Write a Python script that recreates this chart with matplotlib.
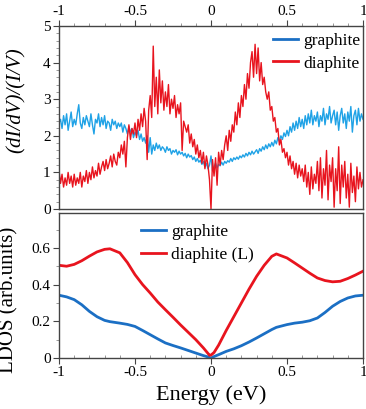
import numpy as np
import matplotlib
matplotlib.use("Agg")
import matplotlib.pyplot as plt
from matplotlib.ticker import MultipleLocator

plt.rcParams['font.family'] = ['Liberation Serif', 'DejaVu Serif']

# ---- top panel: measured (dI/dV)/(I/V) ----
energy_exp = np.linspace(-1, 1, 201)
graphite_exp = [
    2.35, 2.45, 2.20, 2.55, 2.30, 2.60, 2.15, 2.40, 2.65, 2.25,
    2.45, 2.30, 2.60, 2.85, 2.35, 2.20, 2.50, 2.30, 2.55, 2.40,
    2.25, 2.60, 2.30, 2.05, 2.45, 2.35, 2.60, 2.25, 2.50, 2.30,
    2.55, 2.20, 2.40, 2.35, 2.15, 2.45, 2.30, 2.40, 2.20, 2.35,
    2.25, 2.35, 2.10, 2.30, 2.20, 2.05, 2.25, 2.10, 2.20, 1.95,
    2.10, 2.00, 2.15, 1.90, 2.05, 1.85, 1.95, 1.80, 2.00, 1.55,
    1.95, 1.50, 1.75, 1.60, 1.80, 1.65, 1.75, 1.60, 1.70, 1.65,
    1.55, 1.70, 1.60, 1.65, 1.50, 1.60, 1.55, 1.62, 1.48, 1.58,
    1.50, 1.55, 1.45, 1.52, 1.40, 1.50, 1.42, 1.46, 1.35, 1.42,
    1.30, 1.38, 1.28, 1.33, 1.22, 1.30, 1.15, 1.25, 1.10, 1.20,
    1.45, 1.05, 1.15, 1.25, 1.12, 1.22, 1.18, 1.28, 1.20, 1.30,
    1.25, 1.32, 1.28, 1.38, 1.30, 1.40, 1.35, 1.42, 1.36, 1.45,
    1.40, 1.48, 1.42, 1.52, 1.45, 1.55, 1.48, 1.58, 1.50, 1.56,
    1.62, 1.52, 1.65, 1.58, 1.70, 1.62, 1.75, 1.65, 1.78, 1.70,
    1.82, 1.72, 1.88, 1.78, 1.95, 1.85, 2.00, 1.90, 2.08, 1.98,
    2.15, 2.00, 2.25, 2.10, 2.35, 2.15, 2.40, 2.20, 2.50, 2.25,
    2.45, 2.20, 2.55, 2.30, 2.60, 2.35, 2.70, 2.30, 2.55, 2.40,
    2.65, 2.25, 2.55, 2.40, 2.75, 2.30, 2.60, 2.45, 2.80, 2.35,
    2.55, 2.70, 2.30, 2.65, 2.15, 2.55, 2.75, 2.35, 2.60, 2.20,
    2.65, 2.40, 2.80, 2.10, 2.55, 2.70, 2.30, 2.75, 2.40, 2.60,
    2.45]
diaphite_exp = [
    1.05, 0.70, 0.95, 0.60, 0.85, 0.65, 1.00, 0.70, 0.90, 0.60,
    0.95, 0.65, 0.85, 0.70, 1.00, 0.60, 0.90, 0.75, 1.05, 0.70,
    1.00, 0.80, 1.15, 0.85, 1.05, 0.90, 1.25, 0.95, 1.15, 1.30,
    1.05, 1.35, 1.10, 1.25, 1.45, 1.15, 1.50, 1.30, 1.20, 1.55,
    1.40, 1.75, 1.50, 1.85, 1.15, 1.95, 2.30, 1.90, 2.20, 2.05,
    2.35, 1.95, 2.45, 2.15, 2.60, 2.25, 2.75, 2.40, 1.35, 2.70,
    3.10, 2.50, 4.45, 2.80, 3.60, 2.60, 3.80, 2.90, 3.50, 2.70,
    3.20, 2.80, 3.40, 2.60, 3.00, 2.75, 3.10, 2.50, 2.85, 2.60,
    2.90, 1.60, 2.40, 2.25, 2.10, 2.30, 1.80, 2.05, 1.70, 1.90,
    1.50, 1.75, 1.40, 1.60, 1.25, 1.55, 1.10, 1.45, 1.20, 0.80,
    0.00, 1.35, 0.90, 1.40, 0.65, 1.55, 1.20, 1.60, 1.35, 1.75,
    2.00, 1.60, 2.15, 1.85, 2.30, 2.10, 2.65, 2.30, 2.90, 2.50,
    3.10, 2.80, 3.40, 3.00, 3.70, 3.30, 4.00, 4.30, 3.60, 4.50,
    3.70, 4.40, 3.50, 4.00, 3.40, 3.60, 3.20, 3.00, 3.20, 2.70,
    2.80, 2.40, 2.50, 2.10, 2.20, 1.75, 1.90, 1.55, 1.65, 1.40,
    1.55, 1.20, 1.45, 1.10, 1.30, 0.95, 1.25, 0.85, 1.20, 0.90,
    1.10, 0.75, 1.20, 0.60, 1.00, 0.40, 1.15, 0.55, 0.95, 0.70,
    1.30, 0.50, 1.40, 0.30, 1.10, 0.65, 1.60, 0.25, 1.20, 0.75,
    1.40, 0.05, 1.10, 0.50, 1.70, 0.15, 1.20, 0.60, 1.30, 0.30,
    0.95, 0.05, 1.25, 0.45, 0.90, 0.20, 1.15, 0.55, 1.00, 0.60,
    0.80]

# ---- bottom panel: calculated LDOS ----
energy_calc = [-1.0, -0.95, -0.9, -0.85, -0.8, -0.75, -0.7, -0.665, -0.6, -0.55,
               -0.5, -0.45, -0.4, -0.35, -0.3, -0.25, -0.2, -0.15, -0.1, -0.05,
               -0.02, -0.01, 0.0, 0.02, 0.05, 0.1, 0.15, 0.2, 0.25, 0.3,
               0.35, 0.4, 0.43, 0.5, 0.55, 0.6, 0.65, 0.7, 0.75, 0.8,
               0.85, 0.9, 0.95, 1.0]
diaphite_calc = [0.505, 0.500, 0.510, 0.530, 0.555, 0.578, 0.592, 0.595, 0.573, 0.520,
                 0.454, 0.400, 0.354, 0.305, 0.263, 0.222, 0.180, 0.140, 0.100, 0.055,
                 0.025, 0.015, 0.016, 0.030, 0.070, 0.150, 0.225, 0.300, 0.375, 0.445,
                 0.505, 0.554, 0.567, 0.545, 0.518, 0.490, 0.462, 0.436, 0.422, 0.415,
                 0.418, 0.433, 0.452, 0.473]
graphite_calc = [0.342, 0.333, 0.318, 0.290, 0.254, 0.225, 0.205, 0.198, 0.190, 0.183,
                 0.172, 0.150, 0.127, 0.104, 0.082, 0.068, 0.055, 0.041, 0.027, 0.013,
                 0.006, 0.003, 0.000, 0.008, 0.018, 0.036, 0.050, 0.067, 0.087, 0.109,
                 0.132, 0.155, 0.167, 0.182, 0.190, 0.195, 0.203, 0.218, 0.248, 0.282,
                 0.308, 0.327, 0.338, 0.342]

blue_top = '#1fa2e6'
blue_bot = '#1b6fc4'
red = '#e8141e'
spine_c = '#444444'

fig = plt.figure(figsize=(3.66, 4.09), dpi=100)
ax1 = fig.add_axes([59/366, 1-209/409, (363-59)/366, (209-26)/409])
ax2 = fig.add_axes([59/366, 1-358/409, (363-59)/366, (358-213)/409])

ax1.plot(energy_exp, graphite_exp, color=blue_top, lw=1.0, label='graphite')
ax1.plot(energy_exp, diaphite_exp, color=red, lw=1.0, label='diaphite')
ax1.set_xlim(-1, 1)
ax1.set_ylim(0, 5)
ax1.xaxis.set_ticks_position('top')
ax1.xaxis.set_label_position('top')
ax1.set_xticks([-1, -0.5, 0, 0.5, 1])
ax1.set_xticklabels(['-1', '-0.5', '0', '0.5', '1'])
ax1.xaxis.set_minor_locator(MultipleLocator(0.1))
ax1.set_yticks([0, 1, 2, 3, 4, 5])
ax1.yaxis.set_minor_locator(MultipleLocator(0.2))
ax1.set_ylabel('(dI/dV)/(I/V)', fontsize=15, style='italic')
ax1.yaxis.set_label_coords(-0.111, 0.596)
leg1 = ax1.legend(loc='upper left', bbox_to_anchor=(0.705, 0.963), frameon=False,
                  fontsize=12.5, handlelength=1.45, handletextpad=0.3,
                  labelspacing=0.37, borderpad=0, borderaxespad=0)
for lh, c in zip(leg1.get_lines(), [blue_bot, red]):
    lh.set_color(c)
    lh.set_linewidth(2.0)

ax2.plot(energy_calc, graphite_calc, color=blue_bot, lw=2.0, label='graphite')
ax2.plot(energy_calc, diaphite_calc, color=red, lw=2.0, label='diaphite (L)')
ax2.set_xlim(-1, 1)
ax2.set_ylim(0, 0.79)
ax2.set_xticks([-1, -0.5, 0, 0.5, 1])
ax2.set_xticklabels(['-1', '-0.5', '0', '0.5', '1'])
ax2.xaxis.set_minor_locator(MultipleLocator(0.1))
ax2.set_yticks([0, 0.2, 0.4, 0.6])
ax2.set_yticklabels(['0', '0.2', '0.4', '0.6'])
ax2.yaxis.set_minor_locator(MultipleLocator(0.1))
ax2.set_xlabel('Energy (eV)', fontsize=16, labelpad=4)
ax2.set_ylabel('LDOS (arb.units)', fontsize=15)
ax2.yaxis.set_label_coords(-0.134, 0.40)
ax2.legend(loc='upper left', bbox_to_anchor=(0.269, 0.925), frameon=False,
           fontsize=12.5, handlelength=1.45, handletextpad=0.3,
           labelspacing=0.42, borderpad=0, borderaxespad=0)

for ax in (ax1, ax2):
    for s in ax.spines.values():
        s.set_color(spine_c)
        s.set_linewidth(1.0)
    ax.tick_params(which='major', direction='out', length=4, width=0.8,
                   color=spine_c, labelsize=11, pad=2)
    ax.tick_params(which='minor', direction='out', length=2.5, width=0.6,
                   color='#888888')
ax2.tick_params(axis='x', which='minor', direction='in', length=2.5)

fig.savefig('out.png', dpi=100)
